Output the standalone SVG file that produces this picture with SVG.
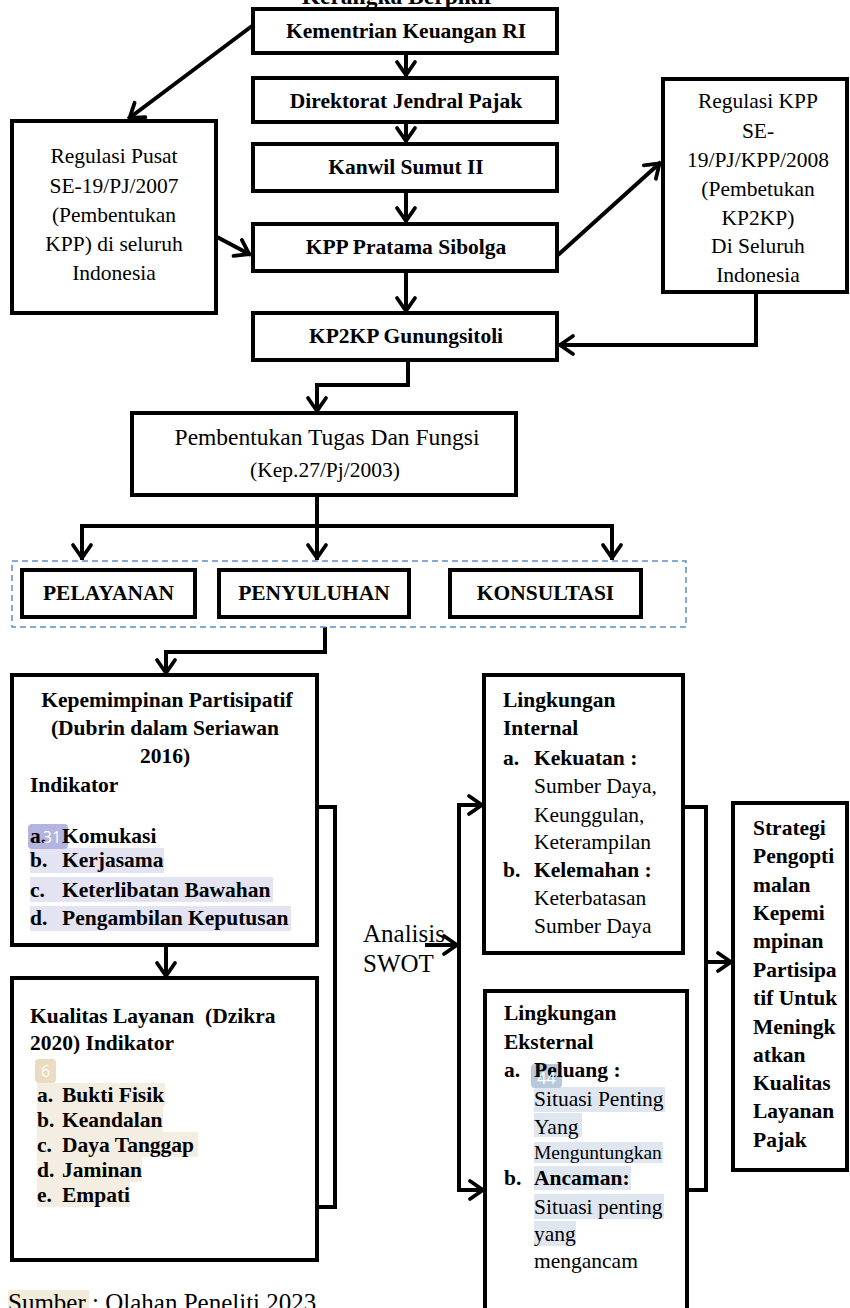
<svg xmlns="http://www.w3.org/2000/svg" width="850" height="1308" viewBox="0 0 850 1308">
<style>
.box{fill:#fff;stroke:#000;stroke-width:4}
.ln{fill:none;stroke:#000;stroke-width:4}
.t{font-family:"Liberation Serif","Times New Roman",serif;font-size:21.5px;fill:#000}
.b{font-weight:bold}
.c{text-anchor:middle}
.hl1{fill:#E3E3F1}
.hl2{fill:#F4EDE1}
.hl3{fill:#DFE6EF}
.badge{font-family:"Open Sans","DejaVu Sans",sans-serif;font-size:16px;fill:#fff;text-anchor:middle}
</style>
<defs>
<marker id="ah" markerUnits="userSpaceOnUse" viewBox="-18 -13 22 26" refX="2" refY="0" markerWidth="22" markerHeight="26" orient="auto">
<path d="M-13,-9 L0,0 L-13,9" fill="none" stroke="#000" stroke-width="3.8" stroke-linejoin="round" stroke-linecap="round"/>
</marker>
</defs>
<rect width="850" height="1308" fill="#fff"/>
<text class="t b c" x="398" y="4" style="font-size:23.5px">Kerangka Berpikir</text>

<g id="connectors">
<path class="ln" d="M406,53 V77" marker-end="url(#ah)"/>
<path class="ln" d="M406,122 V143" marker-end="url(#ah)"/>
<path class="ln" d="M406,191 V223" marker-end="url(#ah)"/>
<path class="ln" d="M406,271 V313" marker-end="url(#ah)"/>
<path class="ln" d="M252,26 L128,119" marker-end="url(#ah)"/>
<path class="ln" d="M217,237 L251,255" marker-end="url(#ah)"/>
<path class="ln" d="M558,255 L661,162" marker-end="url(#ah)"/>
<path class="ln" d="M756,292 V345 H558" marker-end="url(#ah)"/>
<path class="ln" d="M408,360 V385 H317 V413" marker-end="url(#ah)"/>
<path class="ln" d="M317,495 V526"/>
<path class="ln" d="M82,526 H612"/>
<path class="ln" d="M82,524 V560" marker-end="url(#ah)"/>
<path class="ln" d="M317,526 V560" marker-end="url(#ah)"/>
<path class="ln" d="M612,524 V560" marker-end="url(#ah)"/>
<path class="ln" d="M325,627 V652 H166 V675" marker-end="url(#ah)"/>
<path class="ln" d="M166,945 V978" marker-end="url(#ah)"/>
<path class="ln" d="M317,807 H335 V1207 H317"/>
<path class="ln" d="M425,945 H459" marker-end="url(#ah)"/>
<path class="ln" d="M459,805 V1190"/>
<path class="ln" d="M457,805 H484" marker-end="url(#ah)"/>
<path class="ln" d="M457,1190 H485" marker-end="url(#ah)"/>
<path class="ln" d="M683,807 H706 V1190 H687"/>
<path class="ln" d="M706,962 H733" marker-end="url(#ah)"/>
</g>

<g id="kementrian">
<rect class="box" x="253" y="9" width="304" height="44"/>
<text class="t b c" x="406" y="38">Kementrian Keuangan RI</text>
</g>
<g id="direktorat">
<rect class="box" x="253" y="78" width="304" height="44"/>
<text class="t b c" x="406" y="108">Direktorat Jendral Pajak</text>
</g>
<g id="kanwil">
<rect class="box" x="253" y="144" width="304" height="47"/>
<text class="t b c" x="406" y="174">Kanwil Sumut II</text>
</g>
<g id="kpp">
<rect class="box" x="253" y="224" width="304" height="47"/>
<text class="t b c" x="406" y="254">KPP Pratama Sibolga</text>
</g>
<g id="regulasi-pusat">
<rect class="box" x="12" y="121" width="204" height="192"/>
<text class="t c" x="114" y="163">Regulasi Pusat</text>
<text class="t c" x="114" y="193">SE-19/PJ/2007</text>
<text class="t c" x="114" y="222">(Pembentukan</text>
<text class="t c" x="114" y="251">KPP) di seluruh</text>
<text class="t c" x="114" y="280">Indonesia</text>
</g>
<g id="regulasi-kpp">
<rect class="box" x="663" y="79" width="184" height="213"/>
<text class="t c" x="758" y="108">Regulasi KPP</text>
<text class="t c" x="758" y="138">SE-</text>
<text class="t c" x="758" y="167">19/PJ/KPP/2008</text>
<text class="t c" x="758" y="196">(Pembetukan</text>
<text class="t c" x="758" y="225">KP2KP)</text>
<text class="t c" x="758" y="253">Di Seluruh</text>
<text class="t c" x="758" y="282">Indonesia</text>
</g>
<g id="kp2kp">
<rect class="box" x="253" y="313" width="304" height="47"/>
<text class="t b c" x="406" y="343">KP2KP Gunungsitoli</text>
</g>
<g id="pembentukan">
<rect class="box" x="132" y="413" width="384" height="82"/>
<text class="t c" x="327" y="445" style="font-size:23.5px">Pembentukan Tugas Dan Fungsi</text>
<text class="t c" x="325" y="477">(Kep.27/Pj/2003)</text>
</g>
<g id="group-tugas">
<rect x="12" y="561" width="674" height="66" fill="none" stroke="#5B8FD0" stroke-width="1.5" stroke-dasharray="6,4"/>
</g>
<g id="pelayanan">
<rect class="box" x="22" y="570" width="173" height="47"/>
<text class="t b c" x="108.5" y="600">PELAYANAN</text>
</g>
<g id="penyuluhan">
<rect class="box" x="219" y="570" width="190" height="47"/>
<text class="t b c" x="314" y="600">PENYULUHAN</text>
</g>
<g id="konsultasi">
<rect class="box" x="450" y="570" width="191" height="47"/>
<text class="t b c" x="545.5" y="600">KONSULTASI</text>
</g>
<g id="kepemimpinan">
<rect class="box" x="12" y="675" width="305" height="270"/>
<text class="t b c" x="167" y="707">Kepemimpinan Partisipatif</text>
<text class="t b c" x="165" y="735">(Dubrin dalam Seriawan</text>
<text class="t b c" x="165" y="763">2016)</text>
<text class="t b" x="30" y="792">Indikator</text>
<rect class="hl1" x="30" y="848" width="134" height="25"/>
<rect class="hl1" x="30" y="877" width="243" height="25"/>
<rect class="hl1" x="30" y="906" width="261" height="25"/>
<rect x="28" y="824" width="40" height="25" rx="4" fill="#B3B4E0"/>
<text class="t b" x="30" y="843">a.</text>
<text class="t b" x="62" y="843">Komukasi</text>
<text class="badge" x="52" y="843">31</text>
<text class="t b" x="30" y="867">b.</text>
<text class="t b" x="62" y="867">Kerjasama</text>
<text class="t b" x="30" y="897">c.</text>
<text class="t b" x="62" y="897">Keterlibatan Bawahan</text>
<text class="t b" x="30" y="925">d.</text>
<text class="t b" x="62" y="925">Pengambilan Keputusan</text>
</g>
<g id="kualitas">
<rect class="box" x="12" y="978" width="305" height="282"/>
<text class="t b" x="30" y="1023" xml:space="preserve">Kualitas Layanan  (Dzikra</text>
<text class="t b" x="30" y="1050">2020) Indikator</text>
<rect class="hl2" x="37" y="1083" width="128" height="24"/>
<rect class="hl2" x="37" y="1107" width="126" height="25"/>
<rect class="hl2" x="37" y="1132" width="161" height="25"/>
<rect class="hl2" x="37" y="1157" width="105" height="25"/>
<rect class="hl2" x="37" y="1182" width="93" height="25"/>
<rect x="35" y="1059" width="21" height="24" rx="4" fill="#EBDBC0"/>
<text class="badge" x="45.5" y="1077">6</text>
<text class="t b" x="37" y="1102">a.</text><text class="t b" x="62" y="1102">Bukti Fisik</text>
<text class="t b" x="37" y="1127">b.</text><text class="t b" x="62" y="1127">Keandalan</text>
<text class="t b" x="37" y="1152">c.</text><text class="t b" x="62" y="1152">Daya Tanggap</text>
<text class="t b" x="37" y="1177">d.</text><text class="t b" x="62" y="1177">Jaminan</text>
<text class="t b" x="37" y="1202">e.</text><text class="t b" x="62" y="1202">Empati</text>
</g>
<g id="analisis">
<text class="t" x="363" y="942" style="font-size:25px">Analisis</text>
<text class="t" x="363" y="972" style="font-size:25px">SWOT</text>
</g>
<g id="internal">
<rect class="box" x="484" y="675" width="199" height="278"/>
<text class="t b" x="503" y="707">Lingkungan</text>
<text class="t b" x="503" y="735">Internal</text>
<text class="t b" x="503" y="765">a.</text><text class="t b" x="534" y="765">Kekuatan :</text>
<text class="t" x="534" y="793">Sumber Daya,</text>
<text class="t" x="534" y="822">Keunggulan,</text>
<text class="t" x="534" y="849">Keterampilan</text>
<text class="t b" x="503" y="877">b.</text><text class="t b" x="534" y="877">Kelemahan :</text>
<text class="t" x="534" y="905">Keterbatasan</text>
<text class="t" x="534" y="933">Sumber Daya</text>
</g>
<g id="eksternal">
<rect class="box" x="485" y="991" width="202" height="340"/>
<text class="t b" x="504" y="1020">Lingkungan</text>
<text class="t b" x="504" y="1049">Eksternal</text>
<rect class="hl3" x="534" y="1087" width="131" height="25"/>
<rect class="hl3" x="534" y="1113" width="48" height="24"/>
<rect class="hl3" x="534" y="1142" width="129" height="21"/>
<rect class="hl3" x="534" y="1166" width="97" height="24"/>
<rect class="hl3" x="534" y="1194" width="130" height="25"/>
<rect class="hl3" x="534" y="1221" width="42" height="25"/>
<rect x="531" y="1064" width="31" height="24" rx="4" fill="#B7CADD"/>
<text class="t b" x="504" y="1077">a.</text><text class="t b" x="534" y="1077">Peluang :</text>
<text class="badge" x="546.5" y="1084">44</text>
<text class="t" x="534" y="1106">Situasi Penting</text>
<text class="t" x="534" y="1134">Yang</text>
<text class="t" x="534" y="1159" style="font-size:19.5px">Menguntungkan</text>
<text class="t b" x="504" y="1185">b.</text><text class="t b" x="534" y="1185">Ancaman:</text>
<text class="t" x="534" y="1214">Situasi penting</text>
<text class="t" x="534" y="1241">yang</text>
<text class="t" x="534" y="1268">mengancam</text>
</g>
<g id="strategi">
<rect class="box" x="733" y="803" width="114" height="367"/>
<text class="t b" x="753" y="835">Strategi</text>
<text class="t b" x="753" y="863">Pengopti</text>
<text class="t b" x="753" y="892">malan</text>
<text class="t b" x="753" y="920">Kepemi</text>
<text class="t b" x="753" y="948">mpinan</text>
<text class="t b" x="753" y="977">Partisipa</text>
<text class="t b" x="753" y="1005">tif Untuk</text>
<text class="t b" x="753" y="1034">Meningk</text>
<text class="t b" x="753" y="1062">atkan</text>
<text class="t b" x="753" y="1090">Kualitas</text>
<text class="t b" x="753" y="1118">Layanan</text>
<text class="t b" x="753" y="1147">Pajak</text>
</g>
<g id="sumber">
<rect x="8" y="1290" width="81" height="20" fill="#F3EBDC"/>
<text class="t" x="8" y="1311" style="font-size:25px">Sumber : Olahan Peneliti 2023</text>
</g>
</svg>
